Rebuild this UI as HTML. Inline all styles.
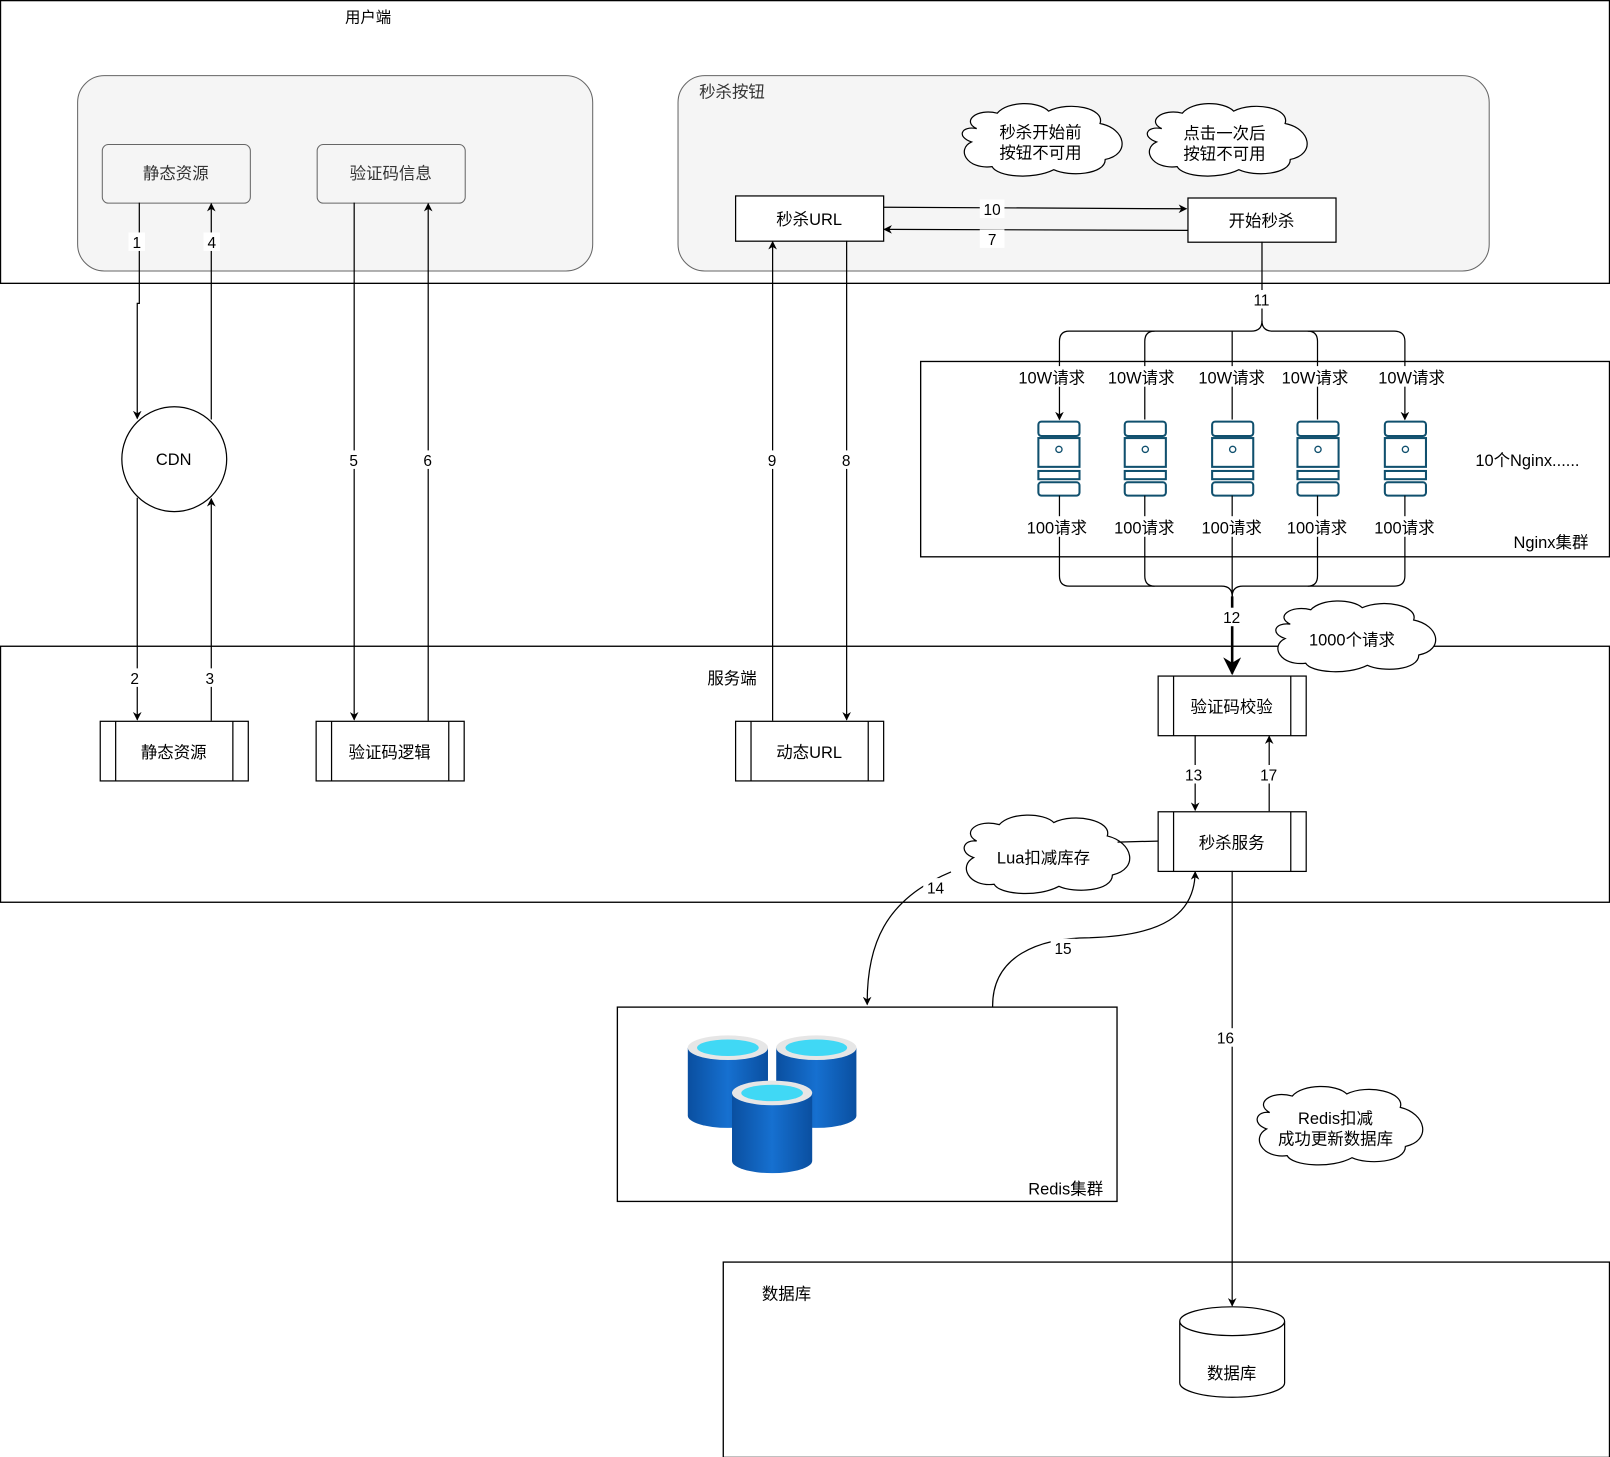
<!DOCTYPE html>
<html><head><meta charset="utf-8"><style>
html,body{margin:0;padding:0;background:#fff;}
svg{display:block;}
text{font-family:"Liberation Sans","Noto Sans CJK SC",sans-serif;font-size:16px;fill:#000;}
.s{font-size:15px;}
</style></head><body>
<svg width="1610" height="1457" viewBox="0 0 1566 1417" xmlns="http://www.w3.org/2000/svg">
<defs>
<marker id="a" viewBox="0 0 10 10" refX="9" refY="5" markerWidth="7" markerHeight="7" orient="auto"><path d="M0,0 L10,5 L0,10 L3,5 z" fill="#000"/></marker>
<linearGradient id="cg" x1="0" x2="1"><stop offset="0" stop-color="#0a4fa0"/><stop offset="0.5" stop-color="#1670d0"/><stop offset="1" stop-color="#0a4fa0"/></linearGradient>
<g id="cyl"><path d="M0,12 V78 A39,12 0 0 0 78,78 V12 Z" fill="url(#cg)"/><ellipse cx="39" cy="12" rx="39" ry="12" fill="#e6e6e6"/><ellipse cx="39" cy="12" rx="30" ry="8" fill="#40d8f5"/></g>
<g id="srv" fill="#fff" stroke="#10506e" stroke-width="2"><rect x="0" y="0" width="40" height="14" rx="3"/><rect x="0" y="16" width="40" height="28"/><circle cx="20" cy="27" r="3" stroke-width="1.3"/><rect x="0" y="48" width="40" height="8"/><rect x="0" y="59" width="40" height="13" rx="3"/></g>
</defs>
<g fill="none" stroke="#000" stroke-width="1.3">
<rect x="0.5" y="0.5" width="1565" height="275"/>
<rect x="0.5" y="628.5" width="1565" height="249"/>
<rect x="895.5" y="351.5" width="670" height="190"/>
<rect x="600.5" y="979.5" width="486" height="189"/>
<rect x="703.5" y="1227.5" width="862" height="190"/>
</g>
<rect x="75.5" y="73.5" width="501" height="190" rx="26" fill="#f5f5f5" stroke="#666"/>
<rect x="659.5" y="73.5" width="789" height="190" rx="26" fill="#f5f5f5" stroke="#666"/>
<rect x="99.5" y="140.5" width="144" height="57" rx="6" fill="#f5f5f5" stroke="#666"/>
<rect x="308.5" y="140.5" width="144" height="57" rx="6" fill="#f5f5f5" stroke="#666"/>
<text x="358" y="22" text-anchor="middle" class="s">用户端</text>
<text x="171" y="174" text-anchor="middle" fill="#333" style="fill:#333">静态资源</text>
<text x="380" y="174" text-anchor="middle" style="fill:#333">验证码信息</text>
<text x="680" y="95" style="fill:#333">秒杀按钮</text>
<!-- clouds -->
<g fill="#fff" stroke="#000" stroke-width="1.2">
<path d="M950,125 C935,118 950,105 970,110 C980,98 1010,98 1020,108 C1040,98 1075,105 1070,120 C1095,125 1100,150 1075,155 C1075,170 1040,172 1025,165 C1005,175 970,172 965,162 C940,165 930,145 945,138 C930,133 935,122 950,125 Z"/>
<path d="M1130,125 C1115,118 1130,105 1150,110 C1160,98 1190,98 1200,108 C1220,98 1255,105 1250,120 C1275,125 1280,150 1255,155 C1255,170 1220,172 1205,165 C1185,175 1150,172 1145,162 C1120,165 1110,145 1125,138 C1110,133 1115,122 1130,125 Z"/>
<path d="M1255,607 C1240,600 1255,588 1275,593 C1285,582 1315,582 1325,591 C1345,582 1380,589 1375,603 C1400,608 1405,632 1380,637 C1380,652 1345,654 1330,647 C1310,657 1275,654 1270,645 C1245,648 1235,628 1250,621 C1235,616 1240,605 1255,607 Z"/>
<path d="M950,818 C935,810 950,796 972,802 C982,790 1015,790 1025,800 C1045,790 1082,798 1077,813 C1102,819 1108,845 1082,851 C1082,867 1045,869 1030,862 C1010,873 972,870 967,860 C942,863 932,842 947,834 C932,829 937,816 950,818 Z"/>
<path d="M1235,1082 C1220,1074 1235,1060 1257,1066 C1267,1054 1300,1054 1310,1064 C1330,1054 1367,1062 1362,1077 C1387,1083 1393,1109 1367,1115 C1367,1131 1330,1133 1315,1126 C1295,1137 1257,1134 1252,1124 C1227,1127 1217,1106 1232,1098 C1217,1093 1222,1080 1235,1082 Z"/>
</g>
<text x="1012" y="134" text-anchor="middle">秒杀开始前</text><text x="1012" y="154" text-anchor="middle">按钮不可用</text>
<text x="1191" y="135" text-anchor="middle">点击一次后</text><text x="1191" y="155" text-anchor="middle">按钮不可用</text>
<text x="1315" y="628" text-anchor="middle">1000个请求</text>
<text x="1015" y="840" text-anchor="middle">Lua扣减库存</text>
<text x="1299" y="1093" text-anchor="middle">Redis扣减</text><text x="1299" y="1113" text-anchor="middle">成功更新数据库</text>
<!-- boxes -->
<g fill="#fff" stroke="#000" stroke-width="1.2">
<rect x="715.5" y="190.5" width="144" height="44"/>
<rect x="1155.5" y="192.5" width="144" height="43"/>
<circle cx="169.5" cy="446.5" r="51"/>
<rect x="97.5" y="701.5" width="144" height="58"/><path d="M112.5,701.5V759.5M226.5,701.5V759.5"/>
<rect x="307.5" y="701.5" width="144" height="58"/><path d="M322.5,701.5V759.5M436.5,701.5V759.5"/>
<rect x="715.5" y="701.5" width="144" height="58"/><path d="M730.5,701.5V759.5M844.5,701.5V759.5"/>
<rect x="1126.5" y="657.5" width="144" height="58"/><path d="M1141.5,657.5V715.5M1255.5,657.5V715.5"/>
<rect x="1126.5" y="789.5" width="144" height="58"/><path d="M1141.5,789.5V847.5M1255.5,789.5V847.5"/>
<path d="M1147.5,1285 V1345 A51,14 0 0 0 1249.5,1345 V1285 A51,14 0 0 0 1147.5,1285 A51,14 0 0 0 1249.5,1285"/>
</g>
<text x="787" y="219" text-anchor="middle">秒杀URL</text>
<text x="1227" y="220" text-anchor="middle">开始秒杀</text>
<text x="169" y="452" text-anchor="middle">CDN</text>
<text x="169" y="737" text-anchor="middle">静态资源</text>
<text x="379" y="737" text-anchor="middle">验证码逻辑</text>
<text x="787" y="737" text-anchor="middle">动态URL</text>
<text x="1198" y="693" text-anchor="middle">验证码校验</text>
<text x="1198" y="825" text-anchor="middle">秒杀服务</text>
<text x="1198" y="1341" text-anchor="middle">数据库</text>
<text x="712" y="665" text-anchor="middle">服务端</text>
<text x="765" y="1264" text-anchor="middle">数据库</text>
<text x="1545" y="533" text-anchor="end">Nginx集群</text>
<text x="1435" y="453">10个Nginx......</text>
<text x="1073" y="1162" text-anchor="end">Redis集群</text>
<use href="#cyl" x="669" y="1007"/><use href="#cyl" x="755" y="1007"/><use href="#cyl" x="712" y="1051"/>
<!-- servers -->
<use href="#srv" x="1010" y="410"/><use href="#srv" x="1094" y="410"/><use href="#srv" x="1179" y="410"/><use href="#srv" x="1262" y="410"/><use href="#srv" x="1347" y="410"/>
<!-- connectors -->
<g fill="none" stroke="#000" stroke-width="1.2">
<path d="M135.5,197 V295 H133.5 V407" marker-end="url(#a)"/>
<path d="M205.5,408 V198" marker-end="url(#a)"/>
<path d="M133.5,484 V700" marker-end="url(#a)"/>
<path d="M205.5,701 V485" marker-end="url(#a)"/>
<path d="M344.5,197 V700" marker-end="url(#a)"/>
<path d="M416.5,701 V198" marker-end="url(#a)"/>
<path d="M751.5,701 V235" marker-end="url(#a)"/>
<path d="M823.5,234 V700" marker-end="url(#a)"/>
<path d="M859.5,201.5 L1154,203" marker-end="url(#a)"/>
<path d="M1155.5,224 L860,223" marker-end="url(#a)"/>
<path d="M1227.5,235 V312 Q1227.5,322 1217,322 H1040 Q1030.5,322 1030.5,332 V408" marker-end="url(#a)"/>
<path d="M1227.5,312 Q1227.5,322 1238,322 H1356 Q1366.5,322 1366.5,332 V408" marker-end="url(#a)"/>
<path d="M1113.5,408 V332 Q1113.5,322 1123,322"/>
<path d="M1198.5,408 V322"/>
<path d="M1281.5,408 V332 Q1281.5,322 1272,322"/>
<path d="M1030.5,482 V560 Q1030.5,570 1040,570 H1188 Q1198.5,570 1198.5,580"/>
<path d="M1366.5,482 V560 Q1366.5,570 1356,570 H1209 Q1198.5,570 1198.5,580"/>
<path d="M1113.5,482 V560 Q1113.5,570 1123,570"/>
<path d="M1281.5,482 V560 Q1281.5,570 1272,570"/>
<path d="M1198.5,482 V580"/>
<path d="M1198.5,580 V655" stroke-width="2.5" marker-end="url(#a)"/>
<path d="M1162.5,715 V788" marker-end="url(#a)"/>
<path d="M1234.5,789 V716" marker-end="url(#a)"/>
<path d="M1126,818 L1087,819"/>
<path d="M925,848 C860,875 843,920 843.5,977" marker-end="url(#a)"/>
<path d="M965.5,979 C965,930 1010,912 1060,912 C1130,910 1162,890 1162.5,848" marker-end="url(#a)"/>
<path d="M1198.5,847 V1270" marker-end="url(#a)"/>
</g>
<g text-anchor="middle">
<g fill="#fff" stroke="none">
<rect x="125" y="226" width="16" height="18"/><rect x="198" y="226" width="16" height="18"/>
<rect x="123" y="650" width="16" height="18"/><rect x="196" y="650" width="16" height="18"/>
<rect x="336" y="438" width="16" height="18"/><rect x="408" y="438" width="16" height="18"/>
<rect x="743" y="438" width="16" height="18"/><rect x="815" y="438" width="16" height="18"/>
<rect x="953" y="194" width="24" height="18"/><rect x="953" y="223" width="24" height="18"/>
<rect x="1215" y="282" width="24" height="18"/><rect x="1186" y="591" width="24" height="18"/>
<rect x="1150" y="744" width="24" height="18"/><rect x="1222" y="744" width="24" height="18"/>
<rect x="898" y="854" width="24" height="18"/><rect x="1022" y="913" width="24" height="18"/>
<rect x="1180" y="1000" width="24" height="18"/>
<rect x="985" y="356" width="76" height="20"/><rect x="1072" y="356" width="76" height="20"/><rect x="1160" y="356" width="76" height="20"/><rect x="1241" y="356" width="76" height="20"/><rect x="1335" y="356" width="76" height="20"/>
<rect x="993" y="502" width="70" height="20"/><rect x="1078" y="502" width="70" height="20"/><rect x="1163" y="502" width="70" height="20"/><rect x="1246" y="502" width="70" height="20"/><rect x="1331" y="502" width="70" height="20"/>
</g>
<text x="133" y="241" class="s">1</text><text x="206" y="241" class="s">4</text>
<text x="131" y="665" class="s">2</text><text x="204" y="665" class="s">3</text>
<text x="344" y="453" class="s">5</text><text x="416" y="453" class="s">6</text>
<text x="751" y="453" class="s">9</text><text x="823" y="453" class="s">8</text>
<text x="965" y="209" class="s">10</text><text x="965" y="238" class="s">7</text>
<text x="1227" y="297" class="s">11</text><text x="1198" y="606" class="s">12</text>
<text x="1161" y="759" class="s">13</text><text x="1234" y="759" class="s">17</text>
<text x="910" y="869" class="s">14</text><text x="1034" y="928" class="s">15</text>
<text x="1192" y="1015" class="s">16</text>
<text x="1023" y="373">10W请求</text><text x="1110" y="373">10W请求</text><text x="1198" y="373">10W请求</text><text x="1279" y="373">10W请求</text><text x="1373" y="373">10W请求</text>
<text x="1028" y="519">100请求</text><text x="1113" y="519">100请求</text><text x="1198" y="519">100请求</text><text x="1281" y="519">100请求</text><text x="1366" y="519">100请求</text>
</g>
</svg>
</body></html>
